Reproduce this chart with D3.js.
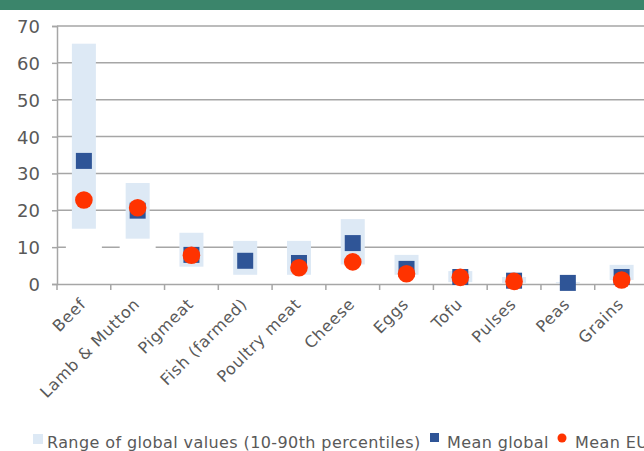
<!DOCTYPE html>
<html>
<head>
<meta charset="utf-8">
<script src="https://cdn.jsdelivr.net/npm/d3@7"></script>
<style>
  html, body { margin: 0; padding: 0; background: #fff; overflow: hidden; }
  svg { display: block; font-family: "DejaVu Sans", sans-serif; }
</style>
</head>
<body>
<svg id="chart" width="644" height="451"></svg>
<script>
// ---- data ----
const categories = ["Beef", "Lamb & Mutton", "Pigmeat", "Fish (farmed)", "Poultry meat", "Cheese", "Eggs", "Tofu", "Pulses", "Peas", "Grains"];
const rangeLow  = [15.0, 12.3, 4.7, 2.5, 2.5, 5.3, 2.5, 0.5, 0.3, 0.2, 1.1];
const rangeHigh = [65.2, 27.4, 13.9, 11.7, 11.7, 17.6, 7.9, 3.5, 1.9, 0.5, 5.2];
const meanGlobal = [33.4, 19.9, 7.9, 6.3, 5.7, 11.1, 4.1, 1.9, 0.9, 0.3, 1.9];
const meanEU     = [22.8, 20.7, 7.8, null, 4.4, 6.0, 2.8, 1.8, 0.7, null, 1.1];
const yTicks = [0, 10, 20, 30, 40, 50, 60, 70];
const legendLabels = ["Range of global values (10-90th percentiles)", "Mean global", "Mean EU"];
const titleText = "GHG emissions of food products (kg CO2-eq per kg of product)";

const rows = categories.map((c, i) => ({
  cat: c, low: rangeLow[i], high: rangeHigh[i], glob: meanGlobal[i], eu: meanEU[i]
}));

const svg = d3.select("#chart");
const textColor = "#595959";
const gridColor = "#a6a6a6";

// header band
svg.append("rect").attr("x", 0).attr("y", 0).attr("width", 644).attr("height", 10).attr("fill", "#3b856b");
svg.append("text").attr("x", 330).attr("y", -4).attr("text-anchor", "middle")
  .attr("fill", "#fff").attr("font-size", 16).attr("font-weight", "bold").text(titleText);

const x = d3.scaleBand().domain(categories).range([57, 648.5]).paddingInner(0).paddingOuter(0);
const y = d3.scaleLinear().domain([0, 70]).range([284, 26]);

// gridlines
svg.append("g").selectAll("line").data(yTicks.filter(t => t > 0)).join("line")
  .attr("x1", 57).attr("x2", 648).attr("y1", d => y(d)).attr("y2", d => y(d))
  .attr("stroke", gridColor).attr("stroke-width", 1.5);

// white base (hides gridline below range)
svg.append("g").selectAll("rect").data(rows).join("rect")
  .attr("x", d => x(d.cat) + x.bandwidth() / 2 - 18)
  .attr("width", 36)
  .attr("y", d => y(d.low))
  .attr("height", d => y(0) - y(d.low) - 1)
  .attr("fill", "#fff");

// range bars
svg.append("g").selectAll("rect").data(rows).join("rect")
  .attr("x", d => x(d.cat) + x.bandwidth() / 2 - 12)
  .attr("width", 24)
  .attr("y", d => y(d.high))
  .attr("height", d => y(d.low) - y(d.high))
  .attr("fill", "#dde9f5");

// y axis
const yAxis = d3.axisLeft(y).tickValues(yTicks).tickSize(5).tickPadding(12);
const gy = svg.append("g").attr("transform", "translate(57,0)").call(yAxis);
gy.select(".domain").attr("stroke", gridColor).attr("stroke-width", 1.5);
gy.selectAll(".tick line").attr("stroke", gridColor).attr("stroke-width", 1.5);
gy.selectAll(".tick text").attr("fill", textColor).attr("font-size", 18)
  .attr("font-family", "'DejaVu Sans', sans-serif").attr("dy", "0.36em");

// x axis
const xAxis = d3.axisBottom(x).tickSize(0).tickFormat("");
const gx = svg.append("g").attr("transform", "translate(0,284)").call(xAxis);
gx.select(".domain").attr("stroke", gridColor).attr("stroke-width", 1.5);
// tick marks at band edges
const edges = categories.map(c => x(c)).concat([x(categories[categories.length - 1]) + x.bandwidth()]);
svg.append("g").selectAll("line").data(edges).join("line")
  .attr("x1", d => d).attr("x2", d => d).attr("y1", 284).attr("y2", 290)
  .attr("stroke", gridColor).attr("stroke-width", 1.5);

// x labels
svg.append("g").selectAll("text").data(categories).join("text")
  .attr("transform", d => `translate(${x(d) + x.bandwidth() / 2 + 3},305) rotate(-45)`)
  .attr("text-anchor", "end")
  .attr("fill", textColor).attr("font-size", 16).attr("letter-spacing", 0.7)
  .text(d => d);

// mean global squares
const sq = 16;
svg.append("g").selectAll("rect").data(rows.filter(d => d.glob != null)).join("rect")
  .attr("x", d => x(d.cat) + x.bandwidth() / 2 - sq / 2)
  .attr("y", d => y(d.glob) - sq / 2)
  .attr("width", sq).attr("height", sq)
  .attr("fill", "#2f5597");

// mean EU circles
svg.append("g").selectAll("circle").data(rows.filter(d => d.eu != null)).join("circle")
  .attr("cx", d => x(d.cat) + x.bandwidth() / 2)
  .attr("cy", d => y(d.eu))
  .attr("r", 8.8)
  .attr("fill", "#ff3300");

// legend
const lg = svg.append("g").attr("font-size", 16).attr("fill", textColor).attr("letter-spacing", 0.4);
lg.append("rect").attr("x", 33).attr("y", 434).attr("width", 10).attr("height", 10).attr("fill", "#dde9f5");
lg.append("text").attr("x", 47).attr("y", 448).text(legendLabels[0]);
lg.append("rect").attr("x", 430).attr("y", 433).attr("width", 9).attr("height", 9).attr("fill", "#2f5597");
lg.append("text").attr("x", 447).attr("y", 448).text(legendLabels[1]);
lg.append("circle").attr("cx", 562).attr("cy", 438).attr("r", 4.5).attr("fill", "#ff3300");
lg.append("text").attr("x", 575).attr("y", 448).text(legendLabels[2]);
</script>
</body>
</html>
